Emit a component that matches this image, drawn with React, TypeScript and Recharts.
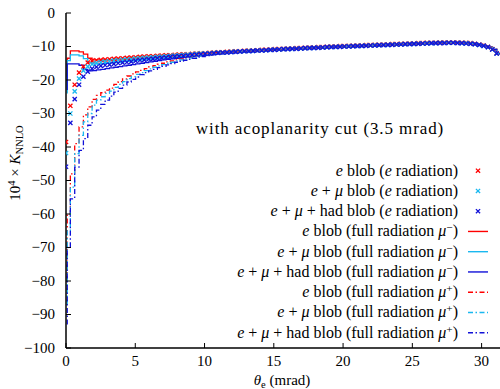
import React from 'react';
import { ComposedChart, Line, Scatter, XAxis, YAxis, Customized } from 'recharts';

// bin left edges (mrad)
const thetaBins = [
  0, 0.314, 0.628, 0.942, 1.256, 1.57, 1.884, 2.198, 2.512, 2.826,
  3.14, 3.454, 3.768, 4.082, 4.396, 4.71, 5.024, 5.338, 5.652, 5.966,
  6.28, 6.594, 6.908, 7.222, 7.536, 7.85, 8.164, 8.478, 8.792, 9.106,
  9.42, 9.734, 10.048, 10.362, 10.676, 10.99, 11.304, 11.618, 11.932, 12.246,
  12.56, 12.874, 13.188, 13.502, 13.816, 14.13, 14.444, 14.758, 15.072, 15.386,
  15.7, 16.014, 16.328, 16.642, 16.956, 17.27, 17.584, 17.898, 18.212, 18.526,
  18.84, 19.154, 19.468, 19.782, 20.096, 20.41, 20.724, 21.038, 21.352, 21.666,
  21.98, 22.294, 22.608, 22.922, 23.236, 23.55, 23.864, 24.178, 24.492, 24.806,
  25.12, 25.434, 25.748, 26.062, 26.376, 26.69, 27.004, 27.318, 27.632, 27.946,
  28.26, 28.574, 28.888, 29.202, 29.516, 29.83, 30.144, 30.458, 30.772, 31.086,
];
const X_MAX = 31.4;
const STEP_START_X = 0.09;
const xTicks = [0, 5, 10, 15, 20, 25, 30];
const yTicks = [0, -10, -20, -30, -40, -50, -60, -70, -80, -90, -100];

// e radiation (markers)
const eBlobERad = [
  -38.5, -27.7, -21.4, -17.8, -16.0, -14.8, -14.3, -14.1, -14.0, -13.9,
  -13.8, -13.7, -13.6, -13.5, -13.4, -13.3, -13.2, -13.1, -13.0, -12.9,
  -12.9, -12.8, -12.7, -12.6, -12.6, -12.5, -12.4, -12.3, -12.3, -12.2,
  -12.1, -12.0, -12.0, -11.9, -11.8, -11.7, -11.7, -11.6, -11.5, -11.4,
  -11.4, -11.3, -11.2, -11.2, -11.1, -11.0, -11.0, -10.9, -10.8, -10.8,
  -10.7, -10.6, -10.6, -10.5, -10.5, -10.4, -10.3, -10.3, -10.2, -10.2,
  -10.1, -10.0, -10.0, -9.9, -9.9, -9.8, -9.8, -9.7, -9.7, -9.6,
  -9.6, -9.5, -9.5, -9.4, -9.4, -9.3, -9.3, -9.2, -9.2, -9.1,
  -9.1, -9.0, -9.0, -8.9, -8.9, -8.9, -8.8, -8.8, -8.8, -8.8,
  -8.8, -8.9, -8.9, -9.0, -9.2, -9.4, -9.7, -10.1, -10.8, -12.0,
];
const eMuBlobERad = [
  -41.8, -30.0, -23.4, -19.6, -17.2, -16.0, -15.3, -14.9, -14.7, -14.5,
  -14.4, -14.2, -14.1, -14.0, -13.9, -13.8, -13.6, -13.5, -13.4, -13.3,
  -13.2, -13.1, -13.0, -12.9, -12.8, -12.7, -12.6, -12.5, -12.4, -12.3,
  -12.2, -12.1, -12.1, -12.0, -11.9, -11.8, -11.8, -11.7, -11.6, -11.5,
  -11.5, -11.4, -11.3, -11.3, -11.2, -11.1, -11.1, -11.0, -10.9, -10.9,
  -10.8, -10.7, -10.7, -10.6, -10.6, -10.5, -10.4, -10.4, -10.3, -10.3,
  -10.2, -10.1, -10.1, -10.0, -10.0, -9.9, -9.9, -9.8, -9.8, -9.7,
  -9.7, -9.6, -9.6, -9.5, -9.5, -9.4, -9.4, -9.3, -9.3, -9.2,
  -9.2, -9.1, -9.1, -9.0, -9.0, -9.0, -8.9, -8.9, -8.9, -8.9,
  -8.9, -9.0, -9.0, -9.1, -9.3, -9.5, -9.8, -10.2, -10.9, -12.1,
];
const eMuHadBlobERad = [
  -45.9, -32.8, -25.7, -21.4, -19.0, -17.5, -16.6, -16.1, -15.8, -15.6,
  -15.4, -15.2, -15.0, -14.8, -14.7, -14.5, -14.3, -14.1, -14.0, -13.8,
  -13.7, -13.5, -13.4, -13.3, -13.1, -13.0, -12.9, -12.8, -12.7, -12.5,
  -12.4, -12.3, -12.2, -12.1, -12.0, -11.9, -11.8, -11.8, -11.7, -11.6,
  -11.5, -11.4, -11.4, -11.3, -11.2, -11.2, -11.1, -11.0, -11.0, -10.9,
  -10.8, -10.8, -10.7, -10.7, -10.6, -10.5, -10.5, -10.4, -10.4, -10.3,
  -10.2, -10.2, -10.1, -10.1, -10.0, -10.0, -9.9, -9.9, -9.8, -9.8,
  -9.7, -9.7, -9.6, -9.6, -9.5, -9.5, -9.4, -9.4, -9.3, -9.3,
  -9.2, -9.2, -9.1, -9.1, -9.0, -9.0, -9.0, -9.0, -8.9, -8.9,
  -9.0, -9.0, -9.1, -9.2, -9.3, -9.5, -9.8, -10.2, -10.9, -12.1,
];

// full radiation mu- (solid steps)
const solidStartValues = [-19, -24, -23];
const eBlobMuMinus = [
  -13.5, -11.3, -11.3, -11.6, -12.3, -13.5, -14.0, -14.0, -14.0, -13.9,
  -13.9, -13.8, -13.7, -13.6, -13.5, -13.4, -13.3, -13.2, -13.1, -13.1,
  -13.0, -12.9, -12.8, -12.7, -12.6, -12.5, -12.4, -12.3, -12.3, -12.2,
  -12.1, -12.0, -12.0, -11.9, -11.8, -11.7, -11.7, -11.6, -11.6, -11.5,
  -11.5, -11.4, -11.3, -11.3, -11.2, -11.1, -11.1, -11.0, -10.9, -10.9,
  -10.8, -10.7, -10.7, -10.6, -10.6, -10.5, -10.4, -10.4, -10.3, -10.3,
  -10.2, -10.1, -10.1, -10.0, -10.0, -9.9, -9.9, -9.8, -9.8, -9.7,
  -9.7, -9.6, -9.6, -9.5, -9.5, -9.4, -9.4, -9.3, -9.3, -9.2,
  -9.2, -9.1, -9.1, -9.0, -9.0, -9.0, -8.9, -8.9, -8.9, -8.9,
  -8.9, -9.0, -9.0, -9.1, -9.3, -9.5, -9.8, -10.2, -10.9, -12.1,
];
const eMuBlobMuMinus = [
  -14.2, -12.5, -12.5, -12.8, -13.6, -14.8, -15.2, -15.2, -15.1, -15.0,
  -14.9, -14.8, -14.7, -14.5, -14.4, -14.3, -14.1, -14.0, -13.9, -13.8,
  -13.7, -13.6, -13.4, -13.3, -13.2, -13.1, -13.0, -12.9, -12.8, -12.7,
  -12.6, -12.5, -12.4, -12.3, -12.2, -12.1, -12.0, -11.9, -11.8, -11.7,
  -11.7, -11.6, -11.5, -11.4, -11.3, -11.2, -11.1, -11.1, -11.0, -10.9,
  -10.8, -10.8, -10.7, -10.7, -10.6, -10.5, -10.5, -10.4, -10.4, -10.3,
  -10.2, -10.2, -10.1, -10.1, -10.0, -10.0, -9.9, -9.9, -9.8, -9.8,
  -9.7, -9.7, -9.6, -9.6, -9.5, -9.5, -9.4, -9.4, -9.3, -9.3,
  -9.2, -9.2, -9.1, -9.1, -9.0, -9.0, -9.0, -9.0, -8.9, -8.9,
  -9.0, -9.0, -9.1, -9.2, -9.3, -9.5, -9.8, -10.2, -10.9, -12.1,
];
const eMuHadBlobMuMinus = [
  -15.2, -15.2, -15.2, -15.6, -16.8, -17.3, -17.2, -17.0, -16.8, -16.6,
  -16.4, -16.2, -16.0, -15.8, -15.6, -15.4, -15.2, -15.0, -14.8, -14.6,
  -14.4, -14.2, -14.0, -13.8, -13.7, -13.5, -13.4, -13.2, -13.1, -12.9,
  -12.8, -12.7, -12.6, -12.4, -12.3, -12.2, -12.1, -12.0, -11.9, -11.8,
  -11.7, -11.6, -11.6, -11.5, -11.4, -11.3, -11.2, -11.1, -11.1, -11.0,
  -10.9, -10.8, -10.8, -10.7, -10.7, -10.6, -10.6, -10.5, -10.4, -10.4,
  -10.3, -10.3, -10.2, -10.2, -10.1, -10.1, -10.0, -10.0, -9.9, -9.9,
  -9.8, -9.8, -9.7, -9.7, -9.6, -9.6, -9.5, -9.5, -9.4, -9.4,
  -9.3, -9.3, -9.2, -9.2, -9.1, -9.1, -9.1, -9.0, -9.0, -9.0,
  -9.0, -9.1, -9.1, -9.2, -9.4, -9.6, -9.9, -10.3, -11.0, -12.2,
];

// full radiation mu+ (dash-dot steps)
const dashStartValues = [-80, -87, -93];
const eBlobMuPlus = [
  -60, -48, -39, -34, -30.4, -28, -25.8, -24.6, -23.8, -23.0,
  -22.4, -21.3, -20.5, -19.7, -18.8, -18.2, -17.6, -17.1, -16.6, -16.1,
  -15.7, -15.3, -15.0, -14.6, -14.3, -14.0, -13.7, -13.4, -13.2, -12.9,
  -12.7, -12.5, -12.3, -12.1, -11.9, -11.8, -11.7, -11.6, -11.5, -11.4,
  -11.4, -11.3, -11.2, -11.2, -11.1, -11.0, -11.0, -10.9, -10.8, -10.8,
  -10.7, -10.6, -10.6, -10.5, -10.5, -10.4, -10.3, -10.3, -10.2, -10.2,
  -10.1, -10.0, -10.0, -9.9, -9.9, -9.8, -9.8, -9.7, -9.7, -9.6,
  -9.6, -9.5, -9.5, -9.4, -9.4, -9.3, -9.3, -9.2, -9.2, -9.1,
  -9.1, -9.0, -9.0, -8.9, -8.9, -8.9, -8.8, -8.8, -8.8, -8.8,
  -8.8, -8.9, -8.9, -9.0, -9.2, -9.4, -9.7, -10.1, -10.8, -12.0,
];
const eMuBlobMuPlus = [
  -65, -52, -42, -36.5, -32.5, -30, -27.5, -26, -25, -24,
  -23.3, -22.2, -21.3, -20.5, -19.6, -19.0, -18.3, -17.8, -17.2, -16.7,
  -16.2, -15.8, -15.4, -15.0, -14.7, -14.3, -14.0, -13.7, -13.4, -13.2,
  -12.9, -12.7, -12.5, -12.3, -12.1, -11.9, -11.8, -11.7, -11.6, -11.5,
  -11.5, -11.4, -11.3, -11.3, -11.2, -11.1, -11.1, -11.0, -10.9, -10.9,
  -10.8, -10.7, -10.7, -10.6, -10.6, -10.5, -10.4, -10.4, -10.3, -10.3,
  -10.2, -10.1, -10.1, -10.0, -10.0, -9.9, -9.9, -9.8, -9.8, -9.7,
  -9.7, -9.6, -9.6, -9.5, -9.5, -9.4, -9.4, -9.3, -9.3, -9.2,
  -9.2, -9.1, -9.1, -9.0, -9.0, -9.0, -8.9, -8.9, -8.9, -8.9,
  -8.9, -9.0, -9.0, -9.1, -9.3, -9.5, -9.8, -10.2, -10.9, -12.1,
];
const eMuHadBlobMuPlus = [
  -70, -55.5, -46, -41, -37.5, -33.5, -31, -29, -27.3, -26,
  -24.8, -23.6, -22.5, -21.5, -20.6, -19.8, -19.1, -18.4, -17.8, -17.3,
  -16.8, -16.3, -15.9, -15.5, -15.1, -14.7, -14.4, -14.1, -13.8, -13.5,
  -13.2, -13.0, -12.7, -12.5, -12.3, -12.1, -11.9, -11.8, -11.7, -11.6,
  -11.5, -11.4, -11.4, -11.3, -11.2, -11.2, -11.1, -11.0, -11.0, -10.9,
  -10.8, -10.8, -10.7, -10.7, -10.6, -10.5, -10.5, -10.4, -10.4, -10.3,
  -10.2, -10.2, -10.1, -10.1, -10.0, -10.0, -9.9, -9.9, -9.8, -9.8,
  -9.7, -9.7, -9.6, -9.6, -9.5, -9.5, -9.4, -9.4, -9.3, -9.3,
  -9.2, -9.2, -9.1, -9.1, -9.0, -9.0, -9.0, -9.0, -8.9, -8.9,
  -9.0, -9.0, -9.1, -9.2, -9.3, -9.5, -9.8, -10.2, -10.9, -12.1,
];

const legendLabels = [
  'e blob (e radiation)',
  'e + μ blob (e radiation)',
  'e + μ + had blob (e radiation)',
  'e blob (full radiation μ^−)',
  'e + μ blob (full radiation μ^−)',
  'e + μ + had blob (full radiation μ^−)',
  'e blob (full radiation μ^+)',
  'e + μ blob (full radiation μ^+)',
  'e + μ + had blob (full radiation μ^+)',
];
const titleText = 'with acoplanarity cut (3.5 mrad)';

const FONT = 'Liberation Serif, DejaVu Serif, Times New Roman, serif';
const TXT: React.CSSProperties = { fontFamily: FONT, whiteSpace: 'pre' };
const RED = '#ff0000';
const CYAN = '#1ab8f0';
const BLUE = '#1010d8';
const DASH = '5 2.5 1.5 2.5';

const markerPoints = (vals: number[]) => thetaBins.map((x, i) => ({ x, y: vals[i] }));
const stepPoints = (start: number, vals: number[]) => [
  { x: STEP_START_X, y: start },
  { x: STEP_START_X, y: vals[0] },
  ...thetaBins.slice(1).map((x, i) => ({ x, y: vals[i + 1] })),
  { x: X_MAX, y: vals[vals.length - 1] },
];

const markerSeries = [
  { vals: eBlobERad, color: RED },
  { vals: eMuBlobERad, color: CYAN },
  { vals: eMuHadBlobERad, color: BLUE },
];
const solidSeries = [
  { vals: eBlobMuMinus, start: solidStartValues[0], color: RED },
  { vals: eMuBlobMuMinus, start: solidStartValues[1], color: CYAN },
  { vals: eMuHadBlobMuMinus, start: solidStartValues[2], color: BLUE },
];
const dashSeries = [
  { vals: eBlobMuPlus, start: dashStartValues[0], color: RED },
  { vals: eMuBlobMuPlus, start: dashStartValues[1], color: CYAN },
  { vals: eMuHadBlobMuPlus, start: dashStartValues[2], color: BLUE },
];

const Cross = (color: string) => (props: any) => {
  const { cx, cy } = props;
  if (cx == null || cy == null) return <g />;
  const r = 2.1;
  return (
    <g stroke={color} strokeWidth={1.3}>
      <line x1={cx - r} y1={cy - r} x2={cx + r} y2={cy + r} />
      <line x1={cx - r} y1={cy + r} x2={cx + r} y2={cy - r} />
    </g>
  );
};

const fmt = (v: number) => (v < 0 ? '\u2212' + Math.abs(v) : String(v));

const BottomTick = (props: any) => {
  const { x, y, payload } = props;
  return (
    <g>
      <line x1={x} y1={y} x2={x} y2={y - 5} stroke="#000" strokeWidth={1} />
      <text x={x} y={366} textAnchor="middle" fontSize={15} fill="#000" style={TXT}>
        {fmt(payload.value)}
      </text>
    </g>
  );
};
const LeftTick = (props: any) => {
  const { x, y, payload } = props;
  return (
    <g>
      <line x1={x} y1={y} x2={x + 5} y2={y} stroke="#000" strokeWidth={1} />
      <text x={x - 11} y={y} dy="0.33em" textAnchor="end" fontSize={15} fill="#000" style={TXT}>
        {fmt(payload.value)}
      </text>
    </g>
  );
};
const TopTick = (props: any) => {
  const { x, y } = props;
  return <line x1={x} y1={y} x2={x} y2={y + 5} stroke="#000" strokeWidth={1} />;
};
const RightTick = (props: any) => {
  const { x, y } = props;
  return <line x1={x} y1={y} x2={x - 5} y2={y} stroke="#000" strokeWidth={1} />;
};

const MathText = ({ text, x, y, size, anchor }: any) => {
  const parts = text.split(/(\be\b|μ|\^[−+])/).filter((s: string) => s !== '');
  let lifted = false;
  const kids = parts.map((p: string, i: number) => {
    const back = lifted ? 5 : 0;
    if (p.startsWith('^')) {
      lifted = true;
      return (
        <tspan key={i} dy={-5 - back} fontSize={size * 0.7}>
          {p.slice(1)}
        </tspan>
      );
    }
    lifted = false;
    if (p === 'e' || p === 'μ') {
      return (
        <tspan key={i} dy={back} fontStyle="italic">
          {p}
        </tspan>
      );
    }
    return (
      <tspan key={i} dy={back}>
        {p}
      </tspan>
    );
  });
  return (
    <text x={x} y={y} textAnchor={anchor} fontSize={size} fill="#000" style={TXT}>
      {kids}
    </text>
  );
};

const Decorations = () => {
  const rowY0 = 170.7;
  const rowStep = 20.25;
  const colors = [RED, CYAN, BLUE, RED, CYAN, BLUE, RED, CYAN, BLUE];
  return (
    <g>
      <text x={320} y={134} textAnchor="middle" fontSize={17} letterSpacing={0.9} fill="#000" style={TXT}>
        {titleText}
      </text>
      {legendLabels.map((lab, i) => {
        const cy = rowY0 + i * rowStep;
        const c = colors[i];
        let sample;
        if (i < 3) {
          sample = Cross(c)({ cx: 478, cy });
        } else {
          sample = (
            <line x1={468} y1={cy} x2={488} y2={cy} stroke={c} strokeWidth={1.4} strokeDasharray={i >= 6 ? DASH : undefined} />
          );
        }
        return (
          <g key={i}>
            <MathText text={lab} x={458} y={cy + 5} size={16} anchor="end" />
            {sample}
          </g>
        );
      })}
      <text x={0} y={0} transform="translate(20,163) rotate(-90)" textAnchor="middle" fontSize={15} fill="#000" style={TXT}>
        <tspan>10</tspan>
        <tspan dy={-5} fontSize={10.5}>4</tspan>
        <tspan dy={5}> × </tspan>
        <tspan fontStyle="italic">K</tspan>
        <tspan dy={3} fontSize={10.5}>NNLO</tspan>
      </text>
      <text x={282} y={385} textAnchor="middle" fontSize={15} fill="#000" style={TXT}>
        <tspan fontStyle="italic">θ</tspan>
        <tspan dy={3} fontSize={10.5}>e</tspan>
        <tspan dy={-3}> (mrad)</tspan>
      </text>
    </g>
  );
};

export default function App() {
  return (
    <div style={{ position: 'absolute', left: 0, top: 0, width: 500, height: 389, overflow: 'hidden', background: '#fff' }}>
      <ComposedChart width={502} height={389} margin={{ top: 13, right: 1, bottom: 0, left: 0 }}>
        <XAxis
          dataKey="x"
          type="number"
          domain={[0, X_MAX]}
          ticks={xTicks}
          interval={0}
          height={41}
          tickSize={0}
          tickMargin={0}
          tickLine={false}
          tick={<BottomTick />}
          axisLine={{ stroke: '#000', strokeWidth: 1.5 }}
          allowDataOverflow
        />
        <XAxis
          xAxisId="top"
          orientation="top"
          type="number"
          domain={[0, X_MAX]}
          ticks={xTicks}
          interval={0}
          height={0}
          tickSize={0}
          tickMargin={0}
          tickLine={false}
          tick={<TopTick />}
          axisLine={{ stroke: '#000', strokeWidth: 1.5 }}
          allowDataOverflow
        />
        <YAxis
          type="number"
          domain={[-100, 0]}
          ticks={yTicks}
          interval={0}
          width={66}
          tickSize={0}
          tickMargin={0}
          tickLine={false}
          tick={<LeftTick />}
          axisLine={{ stroke: '#000', strokeWidth: 1.5 }}
          allowDataOverflow
        />
        <YAxis
          yAxisId="right"
          orientation="right"
          type="number"
          domain={[-100, 0]}
          ticks={yTicks}
          interval={0}
          width={0}
          tickSize={0}
          tickMargin={0}
          tickLine={false}
          tick={<RightTick />}
          axisLine={{ stroke: '#000', strokeWidth: 1.5 }}
          allowDataOverflow
        />
        {markerSeries.map((s, i) => (
          <Scatter
            key={'m' + i}
            data={markerPoints(s.vals)}
            dataKey="y"
            fill={s.color}
            shape={Cross(s.color)}
            isAnimationActive={false}
          />
        ))}
        {solidSeries.map((s, i) => (
          <Line
            key={'s' + i}
            data={stepPoints(s.start, s.vals)}
            dataKey="y"
            type="stepAfter"
            stroke={s.color}
            strokeWidth={1.3}
            dot={false}
            activeDot={false}
            isAnimationActive={false}
          />
        ))}
        {dashSeries.map((s, i) => (
          <Line
            key={'d' + i}
            data={stepPoints(s.start, s.vals)}
            dataKey="y"
            type="stepAfter"
            stroke={s.color}
            strokeWidth={1.3}
            strokeDasharray={DASH}
            dot={false}
            activeDot={false}
            isAnimationActive={false}
          />
        ))}
        <Customized component={Decorations} />
      </ComposedChart>
    </div>
  );
}
